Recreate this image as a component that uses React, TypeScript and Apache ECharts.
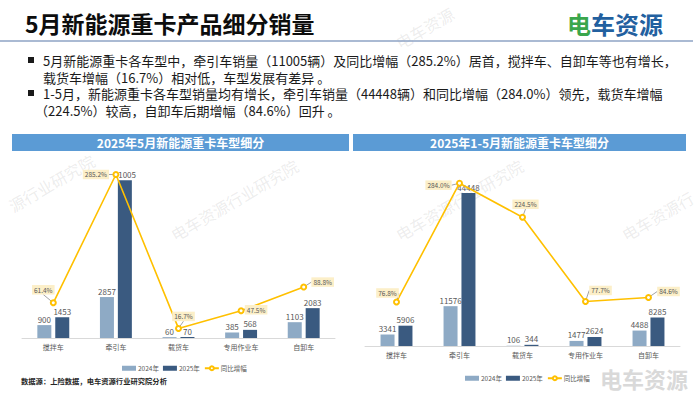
import React, { useEffect, useRef } from "react";
import * as echarts from "echarts";

// ---------- data ----------
const categories = ["搅拌车", "牵引车", "载货车", "专用作业车", "自卸车"];
const may2024 = [900, 2857, 60, 385, 1103];
const may2025 = [1453, 11005, 70, 568, 2083];
const mayYoY = [61.4, 285.2, 16.7, 47.5, 88.8];
const ytd2024 = [3341, 11576, 106, 1477, 4488];
const ytd2025 = [5906, 44448, 344, 2624, 8285];
const ytdYoY = [76.8, 284.0, 224.5, 77.7, 84.6];
const seriesNames = ["2024年", "2025年", "同比增幅"];

const titleText = "5月新能源重卡产品细分销量";
const bulletLines = [
  "5月新能源重卡各车型中，牵引车销量（11005辆）及同比增幅（285.2%）居首，搅拌车、自卸车等也有增长，",
  "载货车增幅（16.7%）相对低，车型发展有差异 。",
  "1-5月，新能源重卡各车型销量均有增长，牵引车销量（44448辆）和同比增幅（284.0%）领先，载货车增幅",
  "（224.5%）较高，自卸车后期增幅（84.6%）回升 。",
];
const leftHeader = "2025年5月新能源重卡车型细分";
const rightHeader = "2025年1-5月新能源重卡车型细分";
const sourceText = "数据源：上险数据，电车资源行业研究院分析";

// ---------- layout / style ----------
const FONT = '"Noto Sans CJK SC", "Noto Sans", sans-serif';
const GOLD = "#FFC000";
const C2024 = "#8eaac5";
const C2025 = "#3a5a80";
const TXT = "#595959";
const mayLabelShift = [[-10, -13], [-20, 0], [5, -12], [15, -1], [19, -5]];
const ytdLabelShift = [[-9, -9], [-21, 2], [3, -13], [15, -11], [20, -6]];
// faint watermark pieces: [x, y, text]
const watermarks: [number, number, string][] = [
  [172, 236, "电车资源行业研究院"],
  [397, 236, "电车资源行业研究院"],
  [623, 236, "电车资源行"],
  [10, 207, "源行业研究院"],
  [397, 44, "电车资源"],
];

function barSeries(name: string, data: number[], color: string, xi: number, yi: number) {
  return {
    type: "bar",
    name,
    data,
    xAxisIndex: xi,
    yAxisIndex: yi,
    barWidth: 14,
    barGap: "28%",
    itemStyle: { color },
    label: { show: true, position: "top", distance: 2, fontSize: 8, color: TXT, fontFamily: FONT },
  };
}

function lineSeries(data: number[], xi: number, yi: number, shifts: number[][]) {
  return {
    type: "line",
    name: seriesNames[2],
    data,
    xAxisIndex: xi,
    yAxisIndex: yi,
    symbol: "emptyCircle",
    symbolSize: 5,
    z: 5,
    lineStyle: { color: GOLD, width: 1.6 },
    itemStyle: { color: GOLD, borderWidth: 1 },
    label: {
      show: true,
      position: "inside",
      formatter: (p: any) => Number(p.value).toFixed(1) + "%",
      fontSize: 6.5,
      color: TXT,
      fontFamily: FONT,
      backgroundColor: "#fcefc8",
      padding: [2, 2, 1, 2],
    },
    labelLine: { show: true, lineStyle: { color: "#8c8c8c", width: 0.8 } },
    labelLayout: (p: any) => ({ dx: shifts[p.dataIndex][0], dy: shifts[p.dataIndex][1] }),
  };
}

function xAxis(gridIndex: number) {
  return {
    type: "category",
    gridIndex,
    data: categories,
    axisLine: { lineStyle: { color: "#d9d9d9", width: 1 } },
    axisTick: { show: false },
    axisLabel: { fontSize: 7, color: TXT, margin: 5, fontFamily: FONT },
  };
}

function legend(left: number, top: number) {
  return {
    left,
    top,
    itemWidth: 14,
    itemHeight: 5,
    itemGap: 4,
    textStyle: { fontSize: 6.5, color: TXT, fontFamily: FONT, padding: [0, 0, 0, -3] },
    data: [
      { name: seriesNames[0], icon: "rect" },
      { name: seriesNames[1], icon: "rect" },
      { name: seriesNames[2] },
    ],
  };
}

function text(x: number, y: number, t: string, s: any, extra: any = {}) {
  return {
    type: "text",
    x,
    y,
    ...extra,
    style: { text: t, fontFamily: FONT, textVerticalAlign: "middle", ...s },
  };
}

function buildOption() {
  const graphic: any[] = [];
  // watermarks
  watermarks.forEach(([x, y, t]) =>
    graphic.push(
      text(x, y, t, { fontSize: 16, fill: "rgba(120,120,120,0.14)" }, { rotation: Math.PI / 6, z: -10, silent: true })
    )
  );
  // title
  graphic.push(text(25, 23, titleText, { fontSize: 23, fontWeight: "bold", fill: "#0d0d0d" }));
  // top logo
  graphic.push(text(567, 23, "电", { fontSize: 24, fontWeight: "bold", fill: "#3aa64c" }));
  graphic.push(text(591, 23, "车资源", { fontSize: 24, fontWeight: "bold", fill: "#22609f" }));
  // separator
  graphic.push({ type: "line", shape: { x1: 0, y1: 41, x2: 693, y2: 41 }, style: { stroke: "#8ea3c4", lineWidth: 1.5 } });
  // bullets
  const ys = [60, 77, 93, 110];
  const xs = [43, 43, 43, 35];
  bulletLines.forEach((l, i) =>
    graphic.push(text(xs[i], ys[i], l, { fontSize: 13, lineHeight: 15, fill: "#1a1a1a" }))
  );
  graphic.push({ type: "rect", shape: { x: 28, y: 57, width: 6, height: 6 }, style: { fill: "#1a1a1a" } });
  graphic.push({ type: "rect", shape: { x: 28, y: 90, width: 6, height: 6 }, style: { fill: "#1a1a1a" } });
  // headers
  graphic.push({ type: "rect", shape: { x: 12, y: 134, width: 337, height: 17 }, style: { fill: "#5b9bd5" } });
  graphic.push({ type: "rect", shape: { x: 353, y: 134, width: 333, height: 17 }, style: { fill: "#5b9bd5" } });
  graphic.push(text(180.5, 142.5, leftHeader, { fontSize: 12, fontWeight: "bold", fill: "#ffffff", textAlign: "center" }));
  graphic.push(text(519.5, 142.5, rightHeader, { fontSize: 12, fontWeight: "bold", fill: "#ffffff", textAlign: "center" }));
  // source
  graphic.push(text(21, 381, sourceText, { fontSize: 7.3, fontWeight: "bold", fill: "#262626" }));
  // bottom logo
  graphic.push(text(600, 378, "电车资源", { fontSize: 22, lineHeight: 22, fontWeight: "bold", fill: "#d9d9d9" }));

  return {
    animation: false,
    backgroundColor: "#ffffff",
    textStyle: { fontFamily: FONT },
    graphic,
    grid: [
      { left: 22, right: 365, top: 166, bottom: 56 },
      { left: 365, right: 20, top: 174, bottom: 48 },
    ],
    legend: [legend(117, 360), legend(460, 370)],
    xAxis: [xAxis(0), xAxis(1)],
    yAxis: [
      { type: "value", gridIndex: 0, min: 0, max: 12000, show: false },
      { type: "value", gridIndex: 0, min: 0, max: 300, show: false },
      { type: "value", gridIndex: 1, min: 0, max: 50000, show: false },
      { type: "value", gridIndex: 1, min: 0, max: 300, show: false },
    ],
    series: [
      barSeries(seriesNames[0], may2024, C2024, 0, 0),
      barSeries(seriesNames[1], may2025, C2025, 0, 0),
      lineSeries(mayYoY, 0, 1, mayLabelShift),
      barSeries(seriesNames[0], ytd2024, C2024, 1, 2),
      barSeries(seriesNames[1], ytd2025, C2025, 1, 2),
      lineSeries(ytdYoY, 1, 3, ytdLabelShift),
    ],
  };
}

export default function App() {
  const ref = useRef<HTMLDivElement>(null);
  useEffect(() => {
    const chart = echarts.init(ref.current!, null, { renderer: "svg" });
    chart.setOption(buildOption() as any);
    return () => chart.dispose();
  }, []);
  return (
    <div
      ref={ref}
      style={{ position: "fixed", left: 0, top: 0, width: 700, height: 394, background: "#fff" }}
    />
  );
}
